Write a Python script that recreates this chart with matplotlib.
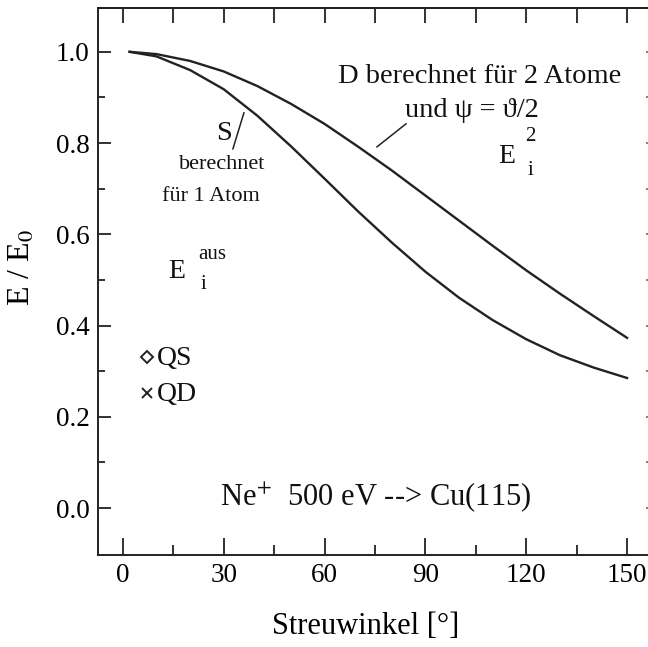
import numpy as np
import matplotlib
matplotlib.use("Agg")
from matplotlib import pyplot as plt

plt.rcParams['font.family'] = ['Liberation Serif', 'DejaVu Serif']
plt.rcParams['mathtext.fontset'] = 'stix'

# values
angle = [2, 10, 20, 30, 40, 50, 60, 70, 80, 90, 100, 110, 120, 130, 140, 150]
e_single = [1.00, 0.99, 0.96, 0.918, 0.86, 0.793, 0.722, 0.65, 0.582, 0.518,
            0.461, 0.412, 0.37, 0.335, 0.308, 0.285]
e_double = [1.00, 0.995, 0.98, 0.957, 0.925, 0.886, 0.842, 0.792, 0.74, 0.685,
            0.63, 0.575, 0.521, 0.47, 0.421, 0.373]
xticks = [0, 30, 60, 90, 120, 150]
yticks = [0.0, 0.2, 0.4, 0.6, 0.8, 1.0]

fig = plt.figure(figsize=(6.48, 6.47), dpi=100)
ax = fig.add_axes([0.1512, 0.1422, 0.858, 0.8454])

ax.plot(angle, e_double, color='#222222', lw=1.7)
ax.plot(angle, e_single, color='#222222', lw=1.7)

ax.set_xlim(-7.4, 158)
ax.set_ylim(-0.103, 1.096)
ax.set_xticks(xticks)
ax.set_xticks(np.arange(15, 151, 30), minor=True)
ax.set_yticks(yticks)
ax.set_yticklabels(['%.1f' % v for v in yticks])
ax.set_yticks(np.arange(0.1, 1.0, 0.2), minor=True)

for s in ax.spines.values():
    s.set_linewidth(1.4)
    s.set_color('#222222')

ax.tick_params(axis='x', which='major', direction='in', length=12, width=1.3,
               labelsize=19.5, pad=6, color='#222222')
ax.tick_params(axis='x', which='minor', direction='in', length=7, width=1.3,
               color='#222222')
ax.tick_params(axis='y', which='major', direction='in', length=9, width=1.3,
               labelsize=19.5, pad=6, color='#222222')
ax.tick_params(axis='y', which='minor', direction='in', length=5, width=1.3,
               color='#222222')

# top and right ticks
top = ax.secondary_xaxis('top')
top.set_xticks(np.arange(0, 151, 15))
top.tick_params(direction='in', length=11, width=1.3, labeltop=False, color='#222222')
top.spines['top'].set_linewidth(1.4)
right = ax.secondary_yaxis('right')
right.set_yticks(np.arange(0.0, 1.01, 0.1))
right.tick_params(direction='in', length=6, width=1.3, labelright=False, color='#777777')

ax.set_xlabel('Streuwinkel [°]', fontsize=22)
ax.xaxis.set_label_coords(0.482, -0.104)
ax.set_ylabel('E / E$_0$', fontsize=23)
ax.yaxis.set_label_coords(-0.11, 0.525)


def px(x, y):
    return (x - 123) / 3.36, (508 - y) / 456


kw = dict(fontsize=20.5, color='#111111', ha='center', va='center')
small = dict(fontsize=16, color='#111111', ha='center', va='center')
ax.text(*px(480, 77), 'D berechnet für 2 Atome', **kw)
ax.text(*px(472, 111), 'und ψ = ϑ/2', **kw)
x0, y0 = px(377, 147)
x1, y1 = px(406, 124)
ax.plot([x0, x1], [y0, y1], color='#222222', lw=1.1)
ax.text(*px(507, 157), 'E', fontsize=20, color='#111111', ha='center', va='center')
ax.text(*px(530, 137), '2', fontsize=15, color='#111111', ha='center', va='center')
ax.text(*px(530, 171), 'i', fontsize=15, color='#111111', ha='center', va='center')

ax.text(*px(224, 134), 'S', **kw)
x0, y0 = px(244, 113)
x1, y1 = px(233, 149)
ax.plot([x0, x1], [y0, y1], color='#222222', lw=1.1)
ax.text(*px(222, 165), 'berechnet', **small)
ax.text(*px(211, 197), 'für 1 Atom', **small)
ax.text(*px(177, 272), 'E', fontsize=20, color='#111111', ha='center', va='center')
ax.text(*px(212, 255), 'aus', fontsize=15, color='#111111', ha='center', va='center')
ax.text(*px(204, 285), 'i', fontsize=15, color='#111111', ha='center', va='center')

ax.plot(*px(147, 357), marker='D', ms=6, mfc='none', mec='#222222', mew=1.4)
ax.text(*px(157, 359), 'QS', fontsize=20, color='#111111', ha='left', va='center')
ax.plot(*px(147, 393), marker='x', ms=6.5, mec='#222222', mew=1.4)
ax.text(*px(157, 395), 'QD', fontsize=20, color='#111111', ha='left', va='center')

ax.text(*px(376, 497), 'Ne$^{+}$  500 eV --> Cu(115)', fontsize=22,
        color='#111111', ha='center', va='center')

fig.savefig('out.png', dpi=100)
